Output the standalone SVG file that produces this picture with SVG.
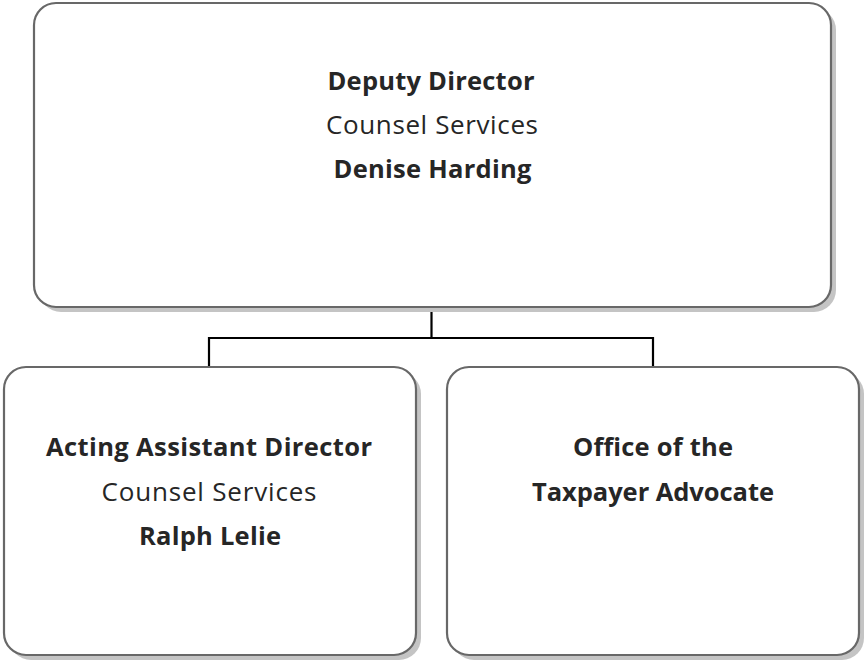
<svg xmlns="http://www.w3.org/2000/svg" width="865" height="661" viewBox="0 0 865 661">
<style>
.shadow{fill:#c4c4c4;stroke:none}
.box{fill:#ffffff;stroke:#686868;stroke-width:2.2}
.t{font-family:"Open Sans","Noto Sans","Liberation Sans",sans-serif;font-size:26px;fill:#262626;text-anchor:middle}
.b{font-weight:bold;font-size:25.5px}
.conn{fill:none;stroke:#000000;stroke-width:2.2}
</style>
<rect width="865" height="661" fill="#ffffff"/>
<g id="connectors">
<path class="conn" d="M431.5 307 V338 M209 367 V338 H653 V367"/>
</g>
<g id="deputy-director">
<rect class="shadow" x="39" y="8" width="797" height="304" rx="22"/>
<rect class="box" x="34" y="3" width="797" height="304" rx="22"/>
<text class="t b" x="431" y="90" textLength="207">Deputy Director</text>
<text class="t" x="432" y="134" textLength="212">Counsel Services</text>
<text class="t b" x="432.5" y="178" textLength="198">Denise Harding</text>
</g>
<g id="acting-assistant-director">
<rect class="shadow" x="9" y="372" width="412" height="288" rx="22"/>
<rect class="box" x="4" y="367" width="412" height="288" rx="22"/>
<text class="t b" x="209" y="456" textLength="326">Acting Assistant Director</text>
<text class="t" x="209" y="500.5" textLength="215">Counsel Services</text>
<text class="t b" x="210" y="545" textLength="142">Ralph Lelie</text>
</g>
<g id="taxpayer-advocate">
<rect class="shadow" x="452" y="372" width="412" height="288" rx="22"/>
<rect class="box" x="447" y="367" width="412" height="288" rx="22"/>
<text class="t b" x="653" y="456" textLength="160">Office of the</text>
<text class="t b" x="653" y="500.5" textLength="242">Taxpayer Advocate</text>
</g>
</svg>
